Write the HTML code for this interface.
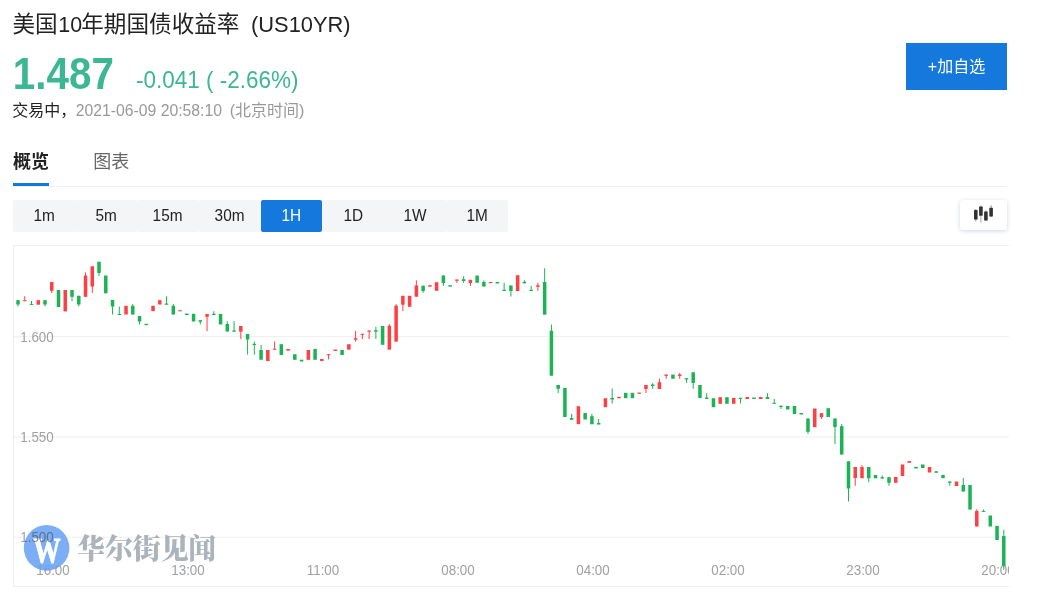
<!DOCTYPE html>
<html lang="zh-CN">
<head>
<meta charset="utf-8">
<title>美国10年期国债收益率 (US10YR)</title>
<style>
*{box-sizing:border-box;margin:0;padding:0}
html,body{width:1041px;height:593px;overflow:hidden;background:#fff}
body{position:relative;font-family:"Liberation Sans","Noto Sans CJK SC",sans-serif;color:#222}
.abs{position:absolute;white-space:nowrap}
#title{left:12.5px;top:9.5px;font-size:22.6px;line-height:30px;color:#222}
#title i{font-style:normal;font-size:21.4px}
#price{left:12.8px;top:48.6px;transform:scaleY(1.085);transform-origin:0 0;font-size:40.4px;line-height:46px;font-weight:bold;color:#3bb794}
#chg{left:136px;top:64.1px;transform:scaleY(1.1);transform-origin:0 0;font-size:22.5px;line-height:30px;color:#3bb794}
#status{left:12.2px;top:99.8px;font-size:16px;line-height:22px;color:#222}
#status b{font-weight:normal}
#status span{color:#999;position:absolute;top:0}
#addbtn{left:906px;top:43px;width:101px;height:47px;background:#1478dc;color:#fff;font-size:16px;line-height:47px;text-align:center}
#tab1{left:13px;top:148.6px;font-size:18px;line-height:26px;font-weight:bold;color:#222}
#tab2{left:93.2px;top:148.6px;font-size:18px;line-height:26px;color:#666}
#tabline{left:13px;top:186px;width:994px;height:1px;background:#eee}
#tabul{left:13px;top:183px;width:36px;height:3px;background:#1478dc}
#periods{left:13px;top:200px;height:32px;display:flex}
#periods div{width:61.875px;height:32px;line-height:32px;text-align:center;font-size:16px;color:#222;background:#f4f5f7;border-radius:2px}
#periods s{display:inline-block;text-decoration:none;transform:scaleX(.96)}
#periods div.on{background:#1478dc;color:#fff}
#ctype{left:960px;top:200px;width:47px;height:30px;background:#fff;border-radius:3px;box-shadow:0 1px 4px rgba(90,120,160,.3)}
#chartsvg{position:absolute;left:0;top:0}
</style>
</head>
<body>
<div id="title" class="abs">美国<i style="margin:0 -0.8px 0 0.6px">10</i>年期国债收益率 <i style="margin-left:5.32px;font-size:21.85px">(US10YR)</i></div>
<div id="price" class="abs">1.487</div>
<div id="chg" class="abs">-0.041 ( -2.66%)</div>
<div id="status" class="abs"><b>交易中，</b><span style="left:63.5px;font-size:15.75px">2021-06-09 20:58:10</span><span style="left:217.5px">(北京时间)</span></div>
<div id="addbtn" class="abs">+加自选</div>
<div id="tab1" class="abs">概览</div>
<div id="tab2" class="abs">图表</div>
<div id="tabline" class="abs"></div>
<div id="tabul" class="abs"></div>
<div id="periods" class="abs"><div><s>1m</s></div><div><s>5m</s></div><div><s>15m</s></div><div><s>30m</s></div><div class="on"><s>1H</s></div><div><s>1D</s></div><div><s>1W</s></div><div><s>1M</s></div></div>
<div id="ctype" class="abs">
<svg width="47" height="30" viewBox="0 0 47 30">
<g fill="#333">
<rect x="14" y="10" width="3.6" height="9.6" rx=".6"/><rect x="15.3" y="9" width="1" height="12.3" opacity=".55"/>
<rect x="19.1" y="6.6" width="3.6" height="9.2" rx=".6"/><rect x="20.4" y="5.6" width="1" height="16.9" opacity=".45"/>
<rect x="24.1" y="11.5" width="3.6" height="9" rx=".6"/><rect x="25.4" y="10.4" width="1" height="10.6" opacity=".55"/>
<rect x="29.3" y="7.8" width="3.6" height="8.7" rx=".6"/><rect x="30.6" y="5.3" width="1" height="11.8" opacity=".55"/>
</g>
</svg>
</div>
<svg id="chartsvg" class="abs" width="1041" height="593" viewBox="0 0 1041 593">
<defs><clipPath id="wc"><circle cx="46.6" cy="547.9" r="22.8"/></clipPath><clipPath id="cc"><rect x="13" y="245" width="996" height="342"/></clipPath></defs>
<rect x="13" y="245" width="996" height="1" fill="#eee"/>
<rect x="13" y="586" width="996" height="1" fill="#eee"/>
<rect x="13" y="245" width="1" height="342" fill="#eee"/>
<g fill="#eee">
<rect x="14" y="336.15" width="995" height="1"/>
<rect x="14" y="436.5" width="995" height="1"/>
<rect x="14" y="536.7" width="995" height="1"/>
</g>
<g clip-path="url(#cc)" font-family="Liberation Sans, sans-serif" font-size="14" fill="#a0a0a0">
<text transform="translate(20.3,342) scale(0.955,1)">1.600</text>
<text transform="translate(20.3,442) scale(0.955,1)">1.550</text>
<text transform="translate(20.3,542) scale(0.955,1)">1.500</text>
<g text-anchor="middle">
<text transform="translate(53,575) scale(0.955,1)">16:00</text>
<text transform="translate(188,575) scale(0.955,1)">13:00</text>
<text transform="translate(323,575) scale(0.955,1)">11:00</text>
<text transform="translate(458,575) scale(0.955,1)">08:00</text>
<text transform="translate(593,575) scale(0.955,1)">04:00</text>
<text transform="translate(728,575) scale(0.955,1)">02:00</text>
<text transform="translate(863,575) scale(0.955,1)">23:00</text>
<text transform="translate(998,575) scale(0.955,1)">20:00</text>
</g>
</g>
<g clip-path="url(#cc)" shape-rendering="auto">
<rect x="17.50" y="300.20" width="1" height="6.20" fill="#1bb455"/>
<rect x="16.25" y="300.20" width="3.5" height="4.30" fill="#1bb455"/>
<rect x="24.25" y="296.20" width="1" height="5.00" fill="#ff3f43"/>
<rect x="23.00" y="300.20" width="3.5" height="1.00" fill="#ff3f43"/>
<rect x="31.00" y="301.00" width="1" height="3.90" fill="#1bb455"/>
<rect x="29.75" y="304.00" width="3.5" height="0.90" fill="#1bb455"/>
<rect x="36.51" y="300.20" width="3.5" height="4.50" fill="#ff3f43"/>
<rect x="44.51" y="300.20" width="1" height="6.20" fill="#1bb455"/>
<rect x="43.26" y="300.20" width="3.5" height="4.30" fill="#1bb455"/>
<rect x="51.26" y="282.00" width="1" height="11.00" fill="#ff3f43"/>
<rect x="50.01" y="282.00" width="3.5" height="8.80" fill="#ff3f43"/>
<rect x="56.76" y="290.00" width="3.5" height="17.00" fill="#1bb455"/>
<rect x="63.51" y="290.00" width="3.5" height="21.40" fill="#ff3f43"/>
<rect x="71.52" y="290.00" width="1" height="11.00" fill="#1bb455"/>
<rect x="70.27" y="290.00" width="3.5" height="6.80" fill="#1bb455"/>
<rect x="78.27" y="295.80" width="1" height="10.60" fill="#1bb455"/>
<rect x="77.02" y="295.80" width="3.5" height="8.70" fill="#1bb455"/>
<rect x="85.02" y="272.50" width="1" height="24.30" fill="#ff3f43"/>
<rect x="83.77" y="275.50" width="3.5" height="21.30" fill="#ff3f43"/>
<rect x="91.77" y="266.30" width="1" height="26.70" fill="#ff3f43"/>
<rect x="90.52" y="266.30" width="3.5" height="20.20" fill="#ff3f43"/>
<rect x="98.52" y="261.80" width="1" height="14.20" fill="#1bb455"/>
<rect x="97.27" y="261.80" width="3.5" height="11.20" fill="#1bb455"/>
<rect x="104.03" y="275.50" width="3.5" height="17.80" fill="#1bb455"/>
<rect x="112.03" y="300.00" width="1" height="14.50" fill="#1bb455"/>
<rect x="110.78" y="300.00" width="3.5" height="6.50" fill="#1bb455"/>
<rect x="118.78" y="306.50" width="1" height="8.50" fill="#1bb455"/>
<rect x="117.53" y="314.00" width="3.5" height="1.00" fill="#1bb455"/>
<rect x="124.28" y="305.80" width="3.5" height="8.70" fill="#ff3f43"/>
<rect x="132.28" y="304.00" width="1" height="10.50" fill="#1bb455"/>
<rect x="131.03" y="305.80" width="3.5" height="8.70" fill="#1bb455"/>
<rect x="139.04" y="316.00" width="1" height="8.50" fill="#1bb455"/>
<rect x="137.79" y="316.00" width="3.5" height="5.50" fill="#1bb455"/>
<rect x="144.54" y="323.80" width="3.5" height="1.40" fill="#1bb455"/>
<rect x="151.29" y="305.80" width="3.5" height="5.40" fill="#ff3f43"/>
<rect x="158.04" y="300.20" width="3.5" height="4.30" fill="#ff3f43"/>
<rect x="166.04" y="296.20" width="1" height="8.50" fill="#1bb455"/>
<rect x="164.79" y="303.50" width="3.5" height="1.20" fill="#1bb455"/>
<rect x="172.80" y="304.00" width="1" height="10.50" fill="#1bb455"/>
<rect x="171.55" y="305.80" width="3.5" height="8.70" fill="#1bb455"/>
<rect x="178.30" y="310.20" width="3.5" height="1.10" fill="#ff3f43"/>
<rect x="185.05" y="313.50" width="3.5" height="1.50" fill="#1bb455"/>
<rect x="191.80" y="313.80" width="3.5" height="7.70" fill="#1bb455"/>
<rect x="199.80" y="320.20" width="1" height="4.20" fill="#1bb455"/>
<rect x="198.55" y="320.20" width="3.5" height="1.60" fill="#1bb455"/>
<rect x="206.56" y="314.00" width="1" height="17.20" fill="#ff3f43"/>
<rect x="205.31" y="314.00" width="3.5" height="2.80" fill="#ff3f43"/>
<rect x="213.31" y="311.20" width="1" height="3.80" fill="#1bb455"/>
<rect x="212.06" y="313.80" width="3.5" height="1.20" fill="#1bb455"/>
<rect x="218.81" y="314.00" width="3.5" height="10.50" fill="#1bb455"/>
<rect x="226.81" y="321.20" width="1" height="10.30" fill="#1bb455"/>
<rect x="225.56" y="324.00" width="3.5" height="7.50" fill="#1bb455"/>
<rect x="233.56" y="321.20" width="1" height="10.50" fill="#1bb455"/>
<rect x="232.31" y="330.50" width="3.5" height="1.20" fill="#1bb455"/>
<rect x="240.32" y="326.00" width="1" height="13.00" fill="#ff3f43"/>
<rect x="239.07" y="326.00" width="3.5" height="5.70" fill="#ff3f43"/>
<rect x="247.07" y="334.00" width="1" height="20.60" fill="#1bb455"/>
<rect x="245.82" y="334.00" width="3.5" height="5.50" fill="#1bb455"/>
<rect x="253.82" y="341.50" width="1" height="13.10" fill="#1bb455"/>
<rect x="252.57" y="343.80" width="3.5" height="1.20" fill="#1bb455"/>
<rect x="260.57" y="345.00" width="1" height="14.70" fill="#1bb455"/>
<rect x="259.32" y="350.00" width="3.5" height="9.70" fill="#1bb455"/>
<rect x="266.07" y="350.00" width="3.5" height="11.00" fill="#ff3f43"/>
<rect x="274.08" y="341.50" width="1" height="8.20" fill="#ff3f43"/>
<rect x="272.83" y="348.70" width="3.5" height="1.00" fill="#ff3f43"/>
<rect x="279.58" y="344.20" width="3.5" height="10.80" fill="#1bb455"/>
<rect x="286.33" y="349.00" width="3.5" height="1.70" fill="#ff3f43"/>
<rect x="293.08" y="354.20" width="3.5" height="5.60" fill="#1bb455"/>
<rect x="299.83" y="359.70" width="3.5" height="1.80" fill="#1bb455"/>
<rect x="306.59" y="350.00" width="3.5" height="9.80" fill="#ff3f43"/>
<rect x="313.34" y="349.00" width="3.5" height="10.80" fill="#1bb455"/>
<rect x="320.09" y="359.00" width="3.5" height="2.00" fill="#ff3f43"/>
<rect x="328.09" y="354.20" width="1" height="5.30" fill="#ff3f43"/>
<rect x="326.84" y="354.20" width="3.5" height="1.00" fill="#ff3f43"/>
<rect x="333.59" y="349.50" width="3.5" height="1.50" fill="#ff3f43"/>
<rect x="340.35" y="350.00" width="3.5" height="5.00" fill="#1bb455"/>
<rect x="347.10" y="344.20" width="3.5" height="5.50" fill="#ff3f43"/>
<rect x="355.10" y="331.00" width="1" height="10.50" fill="#ff3f43"/>
<rect x="353.85" y="338.20" width="3.5" height="1.50" fill="#ff3f43"/>
<rect x="361.85" y="333.80" width="1" height="5.20" fill="#ff3f43"/>
<rect x="360.60" y="333.80" width="3.5" height="1.00" fill="#ff3f43"/>
<rect x="368.60" y="330.50" width="1" height="8.50" fill="#ff3f43"/>
<rect x="367.35" y="330.50" width="3.5" height="1.20" fill="#ff3f43"/>
<rect x="375.36" y="326.80" width="1" height="12.20" fill="#1bb455"/>
<rect x="374.11" y="330.20" width="3.5" height="1.50" fill="#1bb455"/>
<rect x="380.86" y="326.00" width="3.5" height="18.80" fill="#1bb455"/>
<rect x="388.86" y="324.20" width="1" height="25.40" fill="#ff3f43"/>
<rect x="387.61" y="325.80" width="3.5" height="23.80" fill="#ff3f43"/>
<rect x="395.61" y="304.00" width="1" height="37.60" fill="#ff3f43"/>
<rect x="394.36" y="305.70" width="3.5" height="35.90" fill="#ff3f43"/>
<rect x="402.36" y="295.80" width="1" height="15.20" fill="#ff3f43"/>
<rect x="401.11" y="295.80" width="3.5" height="8.90" fill="#ff3f43"/>
<rect x="407.87" y="295.80" width="3.5" height="11.00" fill="#ff3f43"/>
<rect x="415.87" y="280.30" width="1" height="16.40" fill="#ff3f43"/>
<rect x="414.62" y="285.50" width="3.5" height="11.20" fill="#ff3f43"/>
<rect x="422.62" y="285.70" width="1" height="7.10" fill="#1bb455"/>
<rect x="421.37" y="285.70" width="3.5" height="5.30" fill="#1bb455"/>
<rect x="428.12" y="285.20" width="3.5" height="1.50" fill="#ff3f43"/>
<rect x="434.87" y="282.20" width="3.5" height="8.60" fill="#ff3f43"/>
<rect x="442.88" y="275.50" width="1" height="10.50" fill="#1bb455"/>
<rect x="441.63" y="275.50" width="3.5" height="7.50" fill="#1bb455"/>
<rect x="448.38" y="285.20" width="3.5" height="1.50" fill="#1bb455"/>
<rect x="456.38" y="279.50" width="1" height="3.30" fill="#ff3f43"/>
<rect x="455.13" y="279.50" width="3.5" height="1.30" fill="#ff3f43"/>
<rect x="463.13" y="276.20" width="1" height="6.60" fill="#1bb455"/>
<rect x="461.88" y="279.20" width="3.5" height="1.80" fill="#1bb455"/>
<rect x="469.88" y="279.80" width="1" height="6.20" fill="#ff3f43"/>
<rect x="468.63" y="279.80" width="3.5" height="3.20" fill="#ff3f43"/>
<rect x="475.39" y="275.50" width="3.5" height="7.30" fill="#1bb455"/>
<rect x="483.39" y="280.30" width="1" height="6.20" fill="#1bb455"/>
<rect x="482.14" y="282.00" width="3.5" height="4.50" fill="#1bb455"/>
<rect x="488.89" y="282.00" width="3.5" height="1.20" fill="#ff3f43"/>
<rect x="495.64" y="282.00" width="3.5" height="1.50" fill="#1bb455"/>
<rect x="503.64" y="282.80" width="1" height="8.20" fill="#1bb455"/>
<rect x="502.39" y="289.80" width="3.5" height="1.20" fill="#1bb455"/>
<rect x="510.40" y="285.50" width="1" height="11.00" fill="#1bb455"/>
<rect x="509.15" y="285.50" width="3.5" height="5.50" fill="#1bb455"/>
<rect x="515.90" y="275.20" width="3.5" height="15.80" fill="#ff3f43"/>
<rect x="523.90" y="280.30" width="1" height="3.00" fill="#1bb455"/>
<rect x="522.65" y="281.80" width="3.5" height="1.50" fill="#1bb455"/>
<rect x="530.65" y="286.00" width="1" height="5.00" fill="#1bb455"/>
<rect x="529.40" y="289.80" width="3.5" height="1.20" fill="#1bb455"/>
<rect x="537.40" y="282.80" width="1" height="8.00" fill="#ff3f43"/>
<rect x="536.15" y="285.20" width="3.5" height="1.60" fill="#ff3f43"/>
<rect x="544.16" y="268.20" width="1" height="46.40" fill="#1bb455"/>
<rect x="542.91" y="282.00" width="3.5" height="32.60" fill="#1bb455"/>
<rect x="550.91" y="324.50" width="1" height="51.20" fill="#1bb455"/>
<rect x="549.66" y="330.80" width="3.5" height="44.90" fill="#1bb455"/>
<rect x="557.66" y="385.00" width="1" height="8.00" fill="#1bb455"/>
<rect x="556.41" y="385.00" width="3.5" height="3.80" fill="#1bb455"/>
<rect x="563.16" y="388.00" width="3.5" height="29.00" fill="#1bb455"/>
<rect x="571.16" y="413.80" width="1" height="6.00" fill="#1bb455"/>
<rect x="569.91" y="418.00" width="3.5" height="1.80" fill="#1bb455"/>
<rect x="576.67" y="406.20" width="3.5" height="18.00" fill="#ff3f43"/>
<rect x="583.42" y="413.00" width="3.5" height="6.50" fill="#1bb455"/>
<rect x="591.42" y="413.80" width="1" height="10.40" fill="#1bb455"/>
<rect x="590.17" y="416.20" width="3.5" height="8.00" fill="#1bb455"/>
<rect x="598.17" y="419.00" width="1" height="5.50" fill="#1bb455"/>
<rect x="596.92" y="423.00" width="3.5" height="1.50" fill="#1bb455"/>
<rect x="603.67" y="398.20" width="3.5" height="9.00" fill="#ff3f43"/>
<rect x="611.68" y="388.50" width="1" height="15.00" fill="#1bb455"/>
<rect x="610.43" y="398.00" width="3.5" height="1.50" fill="#1bb455"/>
<rect x="617.18" y="396.80" width="3.5" height="1.50" fill="#ff3f43"/>
<rect x="623.93" y="392.80" width="3.5" height="5.40" fill="#1bb455"/>
<rect x="630.68" y="392.80" width="3.5" height="5.40" fill="#1bb455"/>
<rect x="637.43" y="392.50" width="3.5" height="1.30" fill="#ff3f43"/>
<rect x="645.44" y="385.00" width="1" height="8.00" fill="#ff3f43"/>
<rect x="644.19" y="385.00" width="3.5" height="4.00" fill="#ff3f43"/>
<rect x="652.19" y="383.20" width="1" height="5.60" fill="#1bb455"/>
<rect x="650.94" y="384.50" width="3.5" height="1.50" fill="#1bb455"/>
<rect x="658.94" y="378.70" width="1" height="10.30" fill="#ff3f43"/>
<rect x="657.69" y="382.20" width="3.5" height="6.80" fill="#ff3f43"/>
<rect x="665.69" y="374.50" width="1" height="4.30" fill="#ff3f43"/>
<rect x="664.44" y="374.50" width="3.5" height="1.30" fill="#ff3f43"/>
<rect x="671.19" y="374.50" width="3.5" height="4.30" fill="#1bb455"/>
<rect x="679.20" y="373.00" width="1" height="5.80" fill="#ff3f43"/>
<rect x="677.95" y="374.50" width="3.5" height="1.50" fill="#ff3f43"/>
<rect x="685.95" y="378.20" width="1" height="4.60" fill="#1bb455"/>
<rect x="684.70" y="378.20" width="3.5" height="1.30" fill="#1bb455"/>
<rect x="692.70" y="372.30" width="1" height="16.50" fill="#1bb455"/>
<rect x="691.45" y="372.30" width="3.5" height="10.70" fill="#1bb455"/>
<rect x="698.20" y="385.00" width="3.5" height="13.00" fill="#1bb455"/>
<rect x="706.20" y="393.30" width="1" height="5.70" fill="#1bb455"/>
<rect x="704.95" y="397.50" width="3.5" height="1.50" fill="#1bb455"/>
<rect x="711.71" y="398.20" width="3.5" height="9.00" fill="#1bb455"/>
<rect x="718.46" y="397.20" width="3.5" height="6.60" fill="#ff3f43"/>
<rect x="725.21" y="397.20" width="3.5" height="6.60" fill="#1bb455"/>
<rect x="731.96" y="398.00" width="3.5" height="5.80" fill="#ff3f43"/>
<rect x="739.96" y="397.80" width="1" height="5.70" fill="#1bb455"/>
<rect x="738.71" y="397.80" width="3.5" height="1.20" fill="#1bb455"/>
<rect x="745.47" y="397.00" width="3.5" height="2.00" fill="#ff3f43"/>
<rect x="752.22" y="397.50" width="3.5" height="1.50" fill="#1bb455"/>
<rect x="758.97" y="397.00" width="3.5" height="2.00" fill="#ff3f43"/>
<rect x="766.97" y="393.20" width="1" height="5.80" fill="#1bb455"/>
<rect x="765.72" y="397.00" width="3.5" height="2.00" fill="#1bb455"/>
<rect x="773.72" y="398.80" width="1" height="5.00" fill="#1bb455"/>
<rect x="772.47" y="402.80" width="3.5" height="1.00" fill="#1bb455"/>
<rect x="780.48" y="405.70" width="1" height="3.30" fill="#1bb455"/>
<rect x="779.23" y="405.70" width="3.5" height="1.30" fill="#1bb455"/>
<rect x="785.98" y="406.00" width="3.5" height="3.50" fill="#1bb455"/>
<rect x="792.73" y="406.00" width="3.5" height="8.00" fill="#1bb455"/>
<rect x="799.48" y="413.00" width="3.5" height="1.50" fill="#1bb455"/>
<rect x="807.48" y="418.50" width="1" height="15.50" fill="#1bb455"/>
<rect x="806.23" y="418.50" width="3.5" height="13.30" fill="#1bb455"/>
<rect x="812.99" y="408.50" width="3.5" height="18.70" fill="#ff3f43"/>
<rect x="820.99" y="413.20" width="1" height="5.80" fill="#ff3f43"/>
<rect x="819.74" y="413.20" width="3.5" height="3.80" fill="#ff3f43"/>
<rect x="826.49" y="408.20" width="3.5" height="8.80" fill="#1bb455"/>
<rect x="834.49" y="418.50" width="1" height="25.50" fill="#1bb455"/>
<rect x="833.24" y="418.50" width="3.5" height="8.50" fill="#1bb455"/>
<rect x="841.24" y="424.00" width="1" height="30.50" fill="#1bb455"/>
<rect x="839.99" y="426.20" width="3.5" height="28.30" fill="#1bb455"/>
<rect x="848.00" y="461.30" width="1" height="40.20" fill="#1bb455"/>
<rect x="846.75" y="461.30" width="3.5" height="27.20" fill="#1bb455"/>
<rect x="854.75" y="467.00" width="1" height="18.80" fill="#ff3f43"/>
<rect x="853.50" y="467.00" width="3.5" height="11.00" fill="#ff3f43"/>
<rect x="861.50" y="465.20" width="1" height="13.00" fill="#ff3f43"/>
<rect x="860.25" y="467.00" width="3.5" height="11.20" fill="#ff3f43"/>
<rect x="868.25" y="467.00" width="1" height="15.20" fill="#1bb455"/>
<rect x="867.00" y="467.00" width="3.5" height="11.20" fill="#1bb455"/>
<rect x="873.75" y="475.00" width="3.5" height="3.30" fill="#1bb455"/>
<rect x="881.76" y="475.50" width="1" height="3.00" fill="#1bb455"/>
<rect x="880.51" y="477.20" width="3.5" height="1.30" fill="#1bb455"/>
<rect x="888.51" y="477.20" width="1" height="8.60" fill="#1bb455"/>
<rect x="887.26" y="477.20" width="3.5" height="5.60" fill="#1bb455"/>
<rect x="894.01" y="477.00" width="3.5" height="5.80" fill="#ff3f43"/>
<rect x="900.76" y="464.50" width="3.5" height="11.50" fill="#ff3f43"/>
<rect x="907.51" y="461.00" width="3.5" height="1.80" fill="#ff3f43"/>
<rect x="914.27" y="466.80" width="3.5" height="1.70" fill="#1bb455"/>
<rect x="921.02" y="464.50" width="3.5" height="3.50" fill="#1bb455"/>
<rect x="927.77" y="467.00" width="3.5" height="5.50" fill="#ff3f43"/>
<rect x="934.52" y="471.20" width="3.5" height="1.60" fill="#1bb455"/>
<rect x="941.27" y="475.00" width="3.5" height="3.20" fill="#1bb455"/>
<rect x="949.28" y="481.50" width="1" height="4.30" fill="#1bb455"/>
<rect x="948.03" y="481.50" width="3.5" height="1.30" fill="#1bb455"/>
<rect x="954.78" y="481.50" width="3.5" height="4.50" fill="#ff3f43"/>
<rect x="962.78" y="478.00" width="1" height="13.50" fill="#1bb455"/>
<rect x="961.53" y="485.00" width="3.5" height="6.50" fill="#1bb455"/>
<rect x="968.28" y="485.00" width="3.5" height="24.60" fill="#1bb455"/>
<rect x="976.28" y="509.20" width="1" height="17.30" fill="#ff3f43"/>
<rect x="975.03" y="511.00" width="3.5" height="15.50" fill="#ff3f43"/>
<rect x="983.04" y="509.50" width="1" height="2.40" fill="#1bb455"/>
<rect x="981.79" y="511.00" width="3.5" height="0.90" fill="#1bb455"/>
<rect x="988.54" y="515.50" width="3.5" height="11.00" fill="#1bb455"/>
<rect x="995.29" y="525.80" width="3.5" height="14.20" fill="#1bb455"/>
<rect x="1003.29" y="529.80" width="1" height="40.00" fill="#1bb455"/>
<rect x="1002.04" y="536.00" width="3.5" height="30.00" fill="#1bb455"/>
</g>
<g>
<circle cx="46.6" cy="547.9" r="22.8" fill="#66a1f3" fill-opacity="0.86"/>
<text transform="translate(46.8,562.8) scale(0.78,1)" text-anchor="middle" font-family="Liberation Serif, serif" font-weight="bold" font-size="35" fill="#fff" stroke="#fff" stroke-width="0.9">W</text>
<g clip-path="url(#wc)"><text transform="translate(20.3,542) scale(0.955,1)" font-family="Liberation Sans, sans-serif" font-size="14" fill="#5a6068" fill-opacity="0.7">1.500</text></g>
<text x="77" y="559" font-family="Liberation Serif, Noto Serif CJK SC, serif" font-weight="900" font-size="27.9" fill="#8d98a5" fill-opacity="0.74">华尔街见闻</text>
</g>
</svg>
</body>
</html>
